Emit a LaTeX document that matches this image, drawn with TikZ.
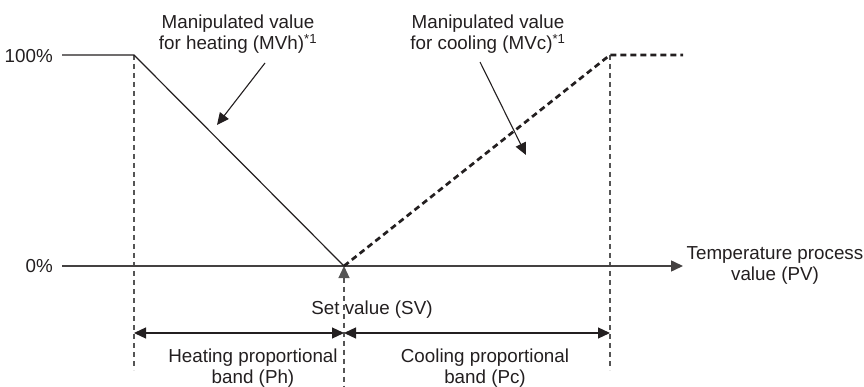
\documentclass[tikz,border=0pt]{standalone}
\usepackage{fontspec}
\setmainfont{Liberation Sans}
\usetikzlibrary{arrows.meta}
\definecolor{ink}{HTML}{231F20}
\definecolor{guide}{HTML}{555555}
\tikzset{
  mytip/.tip={Triangle[length=12pt,width=11pt]},
  lbl/.style={text=ink, inner sep=0pt, align=center, font=\fontsize{18.8}{21}\selectfont},
  solidline/.style={draw=ink, line width=1.2pt},
  axisline/.style={draw=ink!85, line width=1.5pt},
  coolline/.style={draw=ink, line width=2.7pt, dash pattern=on 6pt off 4pt},
  guideline/.style={draw=guide, line width=1.1pt, dash pattern=on 5pt off 4pt},
  leader/.style={draw=ink, line width=1.1pt, -{mytip}},
  dimline/.style={draw=ink, line width=1.2pt, {mytip}-{mytip}}
}
\begin{document}
\begin{tikzpicture}[x=1pt,y=-1pt]
\useasboundingbox (0,0) rectangle (864,387);
% key points
\coordinate (h100) at (62,55);
\coordinate (hc) at (134,55);
\coordinate (sv) at (344,266);
\coordinate (cc) at (610,55);
\coordinate (cend) at (683,55);
\coordinate (ax0) at (62,266);
\coordinate (axend) at (683,266);
\coordinate (hcb) at (134,370);
\coordinate (svb) at (344,387);
\coordinate (ccb) at (610,370);
\coordinate (dh) at (134,333);
\coordinate (dm) at (344,333);
\coordinate (dc) at (610,333);
% guide lines
\draw[guideline] (hc) -- (hcb);
\draw[guideline] (cc) -- (ccb);
\draw[guideline, {mytip}-] (sv) -- (svb);
% axis
\draw[axisline, -{mytip}] (ax0) -- (axend);
% heating
\draw[solidline] (h100) -- (hc) -- (sv);
% cooling
\draw[coolline] (sv) -- (cc) -- (cend);
% dimension arrows
\draw[dimline] (dh) -- (dm);
\draw[dimline] (dm) -- (dc);
% labels
\node[lbl, anchor=east] (l100) at (53,56) {100\%};
\node[lbl, anchor=east] (l0) at (53,266) {0\%};
\node[lbl, anchor=north] (mvh) at (238,15) {Manipulated value\\for heating (MVh)\textsuperscript{*1}};
\node[lbl, anchor=north] (mvc) at (488,15) {Manipulated value\\for cooling (MVc)\textsuperscript{*1}};
\node[lbl, anchor=base] (svl) at (372,314) {Set value (SV)};
\node[lbl, anchor=north] (pv) at (775,246) {Temperature process\\value (PV)};
\node[lbl, anchor=north] (ph) at (253,349) {Heating proportional\\band (Ph)};
\node[lbl, anchor=north] (pc) at (485,349) {Cooling proportional\\band (Pc)};
% leaders
\coordinate (mvhs) at (265,63);
\coordinate (mvht) at (217,125);
\coordinate (mvcs) at (480,62);
\coordinate (mvct) at (526,155);
\draw[leader] (mvhs) -- (mvht);
\draw[leader] (mvcs) -- (mvct);
\end{tikzpicture}
\end{document}
